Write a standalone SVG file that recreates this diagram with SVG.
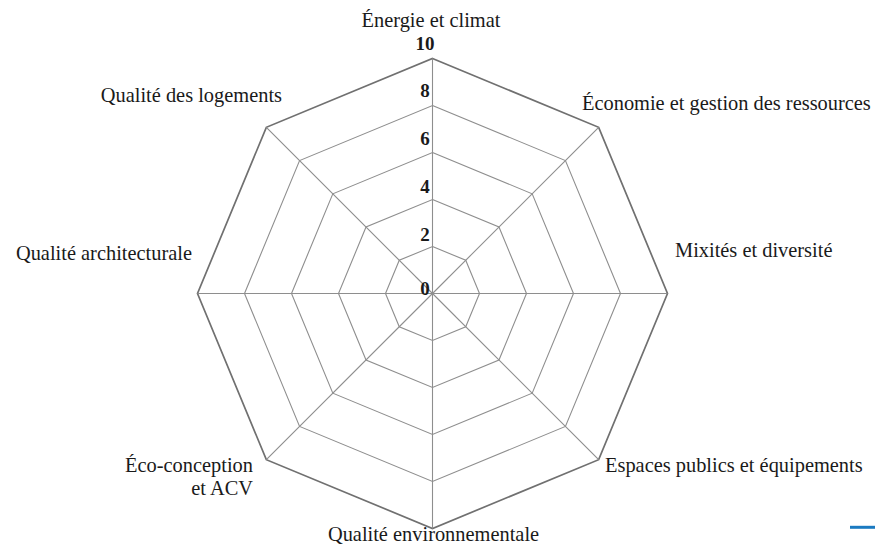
<svg xmlns="http://www.w3.org/2000/svg" width="875" height="547" viewBox="0 0 875 547">
<style>
.ring{fill:none;stroke:#8e8e8e;stroke-width:1.1}
.outer{fill:none;stroke:#707070;stroke-width:1.7}
.axis{stroke:#8e8e8e;stroke-width:1.1}
.lbl{font-family:"Liberation Serif","Times New Roman",serif;font-size:20.4px;fill:#1a1a1a}
.num{font-family:"Liberation Serif","Times New Roman",serif;font-size:19px;font-weight:bold;fill:#1a1a1a;text-anchor:middle}
</style>
<rect width="875" height="547" fill="#ffffff"/>
<g id="grid" transform="translate(432.5,293.5)">
<polygon class="ring" points="0,-47 33.23,-33.23 47,0 33.23,33.23 0,47 -33.23,33.23 -47,0 -33.23,-33.23"/>
<polygon class="ring" points="0,-94 66.47,-66.47 94,0 66.47,66.47 0,94 -66.47,66.47 -94,0 -66.47,-66.47"/>
<polygon class="ring" points="0,-141 99.7,-99.7 141,0 99.7,99.7 0,141 -99.7,99.7 -141,0 -99.7,-99.7"/>
<polygon class="ring" points="0,-188 132.94,-132.94 188,0 132.94,132.94 0,188 -132.94,132.94 -188,0 -132.94,-132.94"/>
<polygon class="outer" points="0,-235 166.17,-166.17 235,0 166.17,166.17 0,235 -166.17,166.17 -235,0 -166.17,-166.17"/>
</g>
<g id="axes" transform="translate(432.5,293.5)">
<line class="axis" x1="0" y1="0" x2="0" y2="-235"/>
<line class="axis" x1="0" y1="0" x2="166.17" y2="-166.17"/>
<line class="axis" x1="0" y1="0" x2="235" y2="0"/>
<line class="axis" x1="0" y1="0" x2="166.17" y2="166.17"/>
<line class="axis" x1="0" y1="0" x2="0" y2="235"/>
<line class="axis" x1="0" y1="0" x2="-166.17" y2="166.17"/>
<line class="axis" x1="0" y1="0" x2="-235" y2="0"/>
<line class="axis" x1="0" y1="0" x2="-166.17" y2="-166.17"/>
</g>
<g id="scale">
<text class="num" x="425" y="50">10</text>
<text class="num" x="425" y="97">8</text>
<text class="num" x="425" y="145">6</text>
<text class="num" x="425" y="193">4</text>
<text class="num" x="425" y="241">2</text>
<text class="num" x="425" y="295">0</text>
</g>
<g id="axis-labels">
<text id="lbl-energie" class="lbl" x="431" y="27" text-anchor="middle">Énergie et climat</text>
<text id="lbl-economie" class="lbl" x="582" y="110">Économie et gestion des ressources</text>
<text id="lbl-mixites" class="lbl" x="675" y="257">Mixités et diversité</text>
<text id="lbl-espaces" class="lbl" x="605" y="472">Espaces publics et équipements</text>
<text id="lbl-environnement" class="lbl" x="433.5" y="541" text-anchor="middle">Qualité environnementale</text>
<text id="lbl-eco" class="lbl" text-anchor="end"><tspan x="253" y="472">Éco-conception</tspan><tspan x="253" y="495">et ACV</tspan></text>
<text id="lbl-architecture" class="lbl" x="192" y="260" text-anchor="end">Qualité architecturale</text>
<text id="lbl-logements" class="lbl" x="282" y="102" text-anchor="end">Qualité des logements</text>
</g>
<line id="mark" x1="850" y1="527.3" x2="875" y2="527.3" stroke="#1b7ac1" stroke-width="3"/>
</svg>
